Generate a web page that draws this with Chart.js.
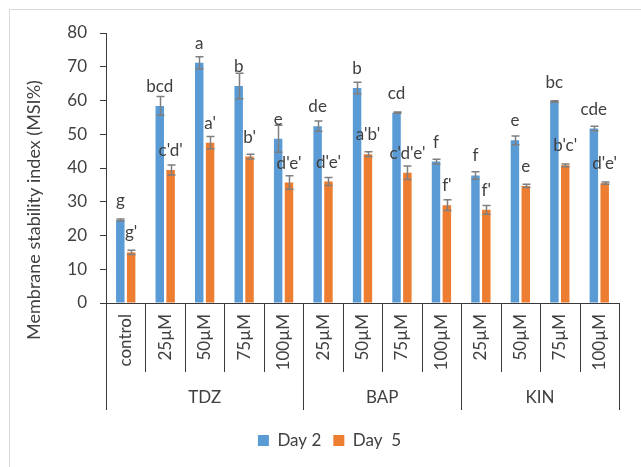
<!DOCTYPE html>
<html><head><meta charset="utf-8">
<script src="https://cdn.jsdelivr.net/npm/chart.js@4"></script>
<style>html,body{margin:0;padding:0;background:#fff}#wrap{position:relative;width:641px;height:467px}</style>
</head><body><div id="wrap"><canvas id="c" width="641" height="467"></canvas></div>
<script>
const categories = ['control','25µM','50µM','75µM','100µM','25µM','50µM','75µM','100µM','25µM','50µM','75µM','100µM'];
const groups = ['TDZ','BAP','KIN'];
const groupSizes = [5,4,4];
const seriesNames = ['Day 2','Day  5'];
const day2 = [24.6,58.4,71.2,64.3,48.7,52.4,63.7,56.4,41.9,37.8,48.2,59.7,51.7];
const day2Err = [0.3,2.8,1.8,3.8,4.0,1.5,1.7,0.2,0.7,1.1,1.3,0.2,0.65];
const day5 = [15.0,39.4,47.5,43.4,35.7,36.0,44.1,38.6,29.0,27.6,34.7,40.8,35.5];
const day5Err = [0.6,1.5,1.8,0.7,2.0,1.2,0.7,2.0,1.6,1.3,0.45,0.4,0.35];
const day2Letters = ['g','bcd','a','b','e','de','b','cd','f','f','e','bc','cde'];
const day5Letters = ["g'","c'd'","a'","b'","d'e'","d'e'","a'b'","c'd'e'","f'","f'","e","b'c'","d'e'"];
const yTitle = 'Membrane stability index (MSI%)';

const FONT = "Lato, 'Liberation Sans', sans-serif";
const TEXT = '#404040';
const AXIS = '#3a3a3a';

const framePlugin = {
  id: 'frame',
  beforeDraw(chart) {
    const ctx = chart.ctx;
    ctx.save();
    ctx.fillStyle = '#fff';
    ctx.fillRect(0, 0, chart.width, chart.height);
    ctx.strokeStyle = '#d9d9d9';
    ctx.lineWidth = 1;
    ctx.strokeRect(9.5, 9.5, chart.width + 20, chart.height + 20);
    ctx.restore();
  }
};

const errPlugin = {
  id: 'errbars',
  afterDatasetsDraw(chart) {
    const ctx = chart.ctx, y = chart.scales.y;
    const errs = [day2Err, day5Err];
    const letters = [day2Letters, day5Letters];
    ctx.save();
    chart.data.datasets.forEach((ds, d) => {
      const meta = chart.getDatasetMeta(d);
      meta.data.forEach((bar, i) => {
        const v = ds.data[i], e = errs[d][i];
        const yt = y.getPixelForValue(v + e), yb = y.getPixelForValue(v - e);
        const x = Math.round(bar.x) + 0.5;
        ctx.strokeStyle = '#7f7f7f';
        ctx.lineWidth = 1.5;
        ctx.beginPath();
        ctx.moveTo(x, yt); ctx.lineTo(x, yb);
        ctx.moveTo(x - 4, yt); ctx.lineTo(x + 4, yt);
        ctx.moveTo(x - 4, yb); ctx.lineTo(x + 4, yb);
        ctx.stroke();
      });
    });
    ctx.fillStyle = TEXT;
    ctx.font = '17px ' + FONT;
    ctx.textAlign = 'center';
    ctx.textBaseline = 'alphabetic';
    chart.data.datasets.forEach((ds, d) => {
      const meta = chart.getDatasetMeta(d);
      meta.data.forEach((bar, i) => {
        ctx.fillText(letters[d][i], bar.x, bar.y - 14);
      });
    });
    ctx.restore();
  }
};

const axisPlugin = {
  id: 'multiaxis',
  afterDraw(chart) {
    const ctx = chart.ctx, xs = chart.scales.x, area = chart.chartArea;
    const n = categories.length;
    const w = (xs.right - xs.left) / n;
    const bottom = area.bottom;
    const groupBounds = [0];
    groupSizes.forEach(s => groupBounds.push(groupBounds[groupBounds.length - 1] + s));
    ctx.save();
    ctx.strokeStyle = AXIS;
    ctx.lineWidth = 1;
    for (let i = 0; i <= n; i++) {
      const x = Math.round(xs.left + i * w) + 0.5;
      const isGroup = groupBounds.includes(i);
      ctx.beginPath();
      ctx.moveTo(x, bottom);
      ctx.lineTo(x, bottom + (isGroup ? 107 : 69));
      ctx.stroke();
    }
    ctx.fillStyle = TEXT;
    ctx.font = '17px ' + FONT;
    for (let i = 0; i < n; i++) {
      const cx = xs.getPixelForValue(i);
      ctx.save();
      ctx.translate(cx, bottom + 11);
      ctx.rotate(-Math.PI / 2);
      ctx.textAlign = 'right';
      ctx.textBaseline = 'middle';
      ctx.fillText(categories[i], 0, 0);
      ctx.restore();
    }
    ctx.textAlign = 'center';
    ctx.textBaseline = 'middle';
    for (let g = 0; g < groups.length; g++) {
      const cx = xs.left + (groupBounds[g] + groupBounds[g + 1]) / 2 * w;
      ctx.fillText(groups[g], cx, bottom + 95);
    }
    // y axis title
    ctx.save();
    ctx.translate(34, 210);
    ctx.rotate(-Math.PI / 2);
    ctx.textAlign = 'center';
    ctx.textBaseline = 'middle';
    ctx.font = '18px ' + FONT;
    ctx.fillText(yTitle, 0, 0);
    ctx.restore();
    ctx.restore();
  }
};

new Chart(document.getElementById('c'), {
  type: 'bar',
  data: {
    labels: categories.map((c, i) => i),
    datasets: [
      { label: seriesNames[0], data: day2, backgroundColor: '#5B9BD5', categoryPercentage: 0.55, barPercentage: 0.78 },
      { label: seriesNames[1], data: day5, backgroundColor: '#ED7D31', categoryPercentage: 0.55, barPercentage: 0.78 }
    ]
  },
  options: {
    responsive: false,
    animation: false,
    devicePixelRatio: 1,
    layout: { padding: { left: 40, right: 22, top: 33, bottom: 8 } },
    plugins: {
      legend: {
        position: 'bottom',
        labels: { boxWidth: 11, boxHeight: 11, padding: 12, color: TEXT, font: { family: FONT, size: 17 } }
      },
      tooltip: { enabled: false }
    },
    scales: {
      x: {
        grid: { display: false },
        border: { display: true, color: AXIS, width: 1 },
        ticks: { display: false },
        afterFit(s) { s.height = 117; }
      },
      y: {
        min: 0, max: 80,
        ticks: { stepSize: 10, padding: 13, color: TEXT, font: { family: FONT, size: 17 } },
        grid: { display: true, drawOnChartArea: false, drawTicks: true, tickLength: 6, color: AXIS },
        border: { display: true, color: AXIS, width: 1 },
        afterFit(s) { s.width = 66; }
      }
    }
  },
  plugins: [framePlugin, errPlugin, axisPlugin]
});
</script>
</body></html>
